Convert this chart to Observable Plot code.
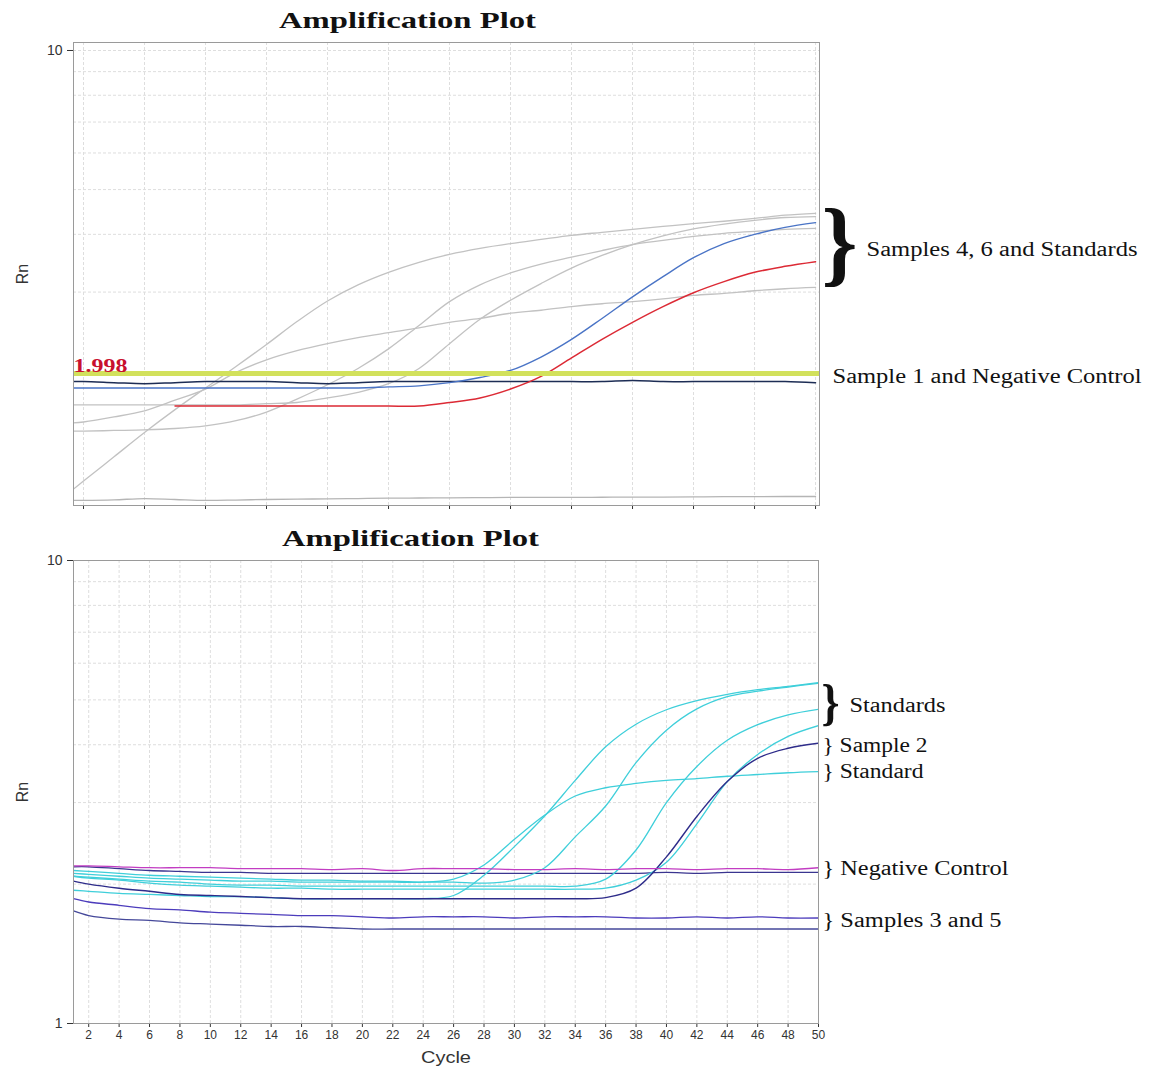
<!DOCTYPE html>
<html><head><meta charset="utf-8">
<script src="https://cdn.jsdelivr.net/npm/d3@7"></script>
<script src="https://cdn.jsdelivr.net/npm/@observablehq/plot@0.6"></script>
<style>
body{margin:0;background:#fff;}
#chart svg{display:block;}
</style></head><body><div id="chart"></div>
<script>
// ---------- data ----------
const cycles = [1,2,4,6,8,10,12,14,16,18,20,22,24,26,28,30,32,34,36,38,40,42,44,46,48,50];
const chartTitle = "Amplification Plot";
const yLabel = "Rn";
const xLabel = "Cycle";
const threshold = 1.998;

// top panel (Rn per cycle)
const topStandardA = [1.10,1.17,1.32,1.49,1.67,1.86,2.07,2.31,2.59,2.87,3.11,3.31,3.48,3.62,3.73,3.82,3.90,3.98,4.04,4.10,4.16,4.22,4.27,4.33,4.40,4.44];
const topStandardB = [1.56,1.57,1.61,1.66,1.75,1.85,2.01,2.14,2.24,2.32,2.39,2.45,2.51,2.58,2.63,2.70,2.74,2.79,2.83,2.86,2.90,2.95,2.98,3.02,3.05,3.07];
const topStandardC = [1.50,1.50,1.505,1.51,1.52,1.54,1.58,1.65,1.76,1.89,2.05,2.26,2.54,2.86,3.11,3.30,3.45,3.57,3.69,3.80,3.88,3.96,4.02,4.06,4.10,4.12];
const topStandardD = [1.71,1.71,1.71,1.71,1.71,1.71,1.71,1.72,1.73,1.77,1.82,1.90,2.05,2.32,2.62,2.88,3.13,3.38,3.60,3.80,3.97,4.11,4.21,4.29,4.35,4.37];
const topBaseline  = [1.062,1.062,1.065,1.072,1.067,1.062,1.064,1.067,1.069,1.070,1.072,1.074,1.075,1.076,1.077,1.078,1.078,1.078,1.079,1.080,1.080,1.081,1.082,1.082,1.083,1.083];
const topSample1   = [1.92,1.92,1.91,1.90,1.91,1.92,1.92,1.92,1.91,1.90,1.91,1.92,1.92,1.92,1.92,1.92,1.92,1.92,1.92,1.93,1.92,1.92,1.92,1.92,1.92,1.91];
const topSample4   = [1.86,1.86,1.86,1.86,1.86,1.86,1.86,1.86,1.86,1.86,1.86,1.87,1.88,1.91,1.96,2.03,2.17,2.37,2.63,2.93,3.24,3.56,3.82,4.00,4.14,4.24];
const topSample6   = [null,null,null,null,1.70,1.70,1.70,1.70,1.70,1.70,1.70,1.70,1.70,1.73,1.77,1.85,1.97,2.16,2.37,2.58,2.79,2.99,3.16,3.31,3.41,3.49];

// bottom panel (Rn per cycle)
const botNegMagenta = [2.19,2.19,2.18,2.17,2.17,2.17,2.16,2.16,2.16,2.15,2.16,2.14,2.16,2.16,2.16,2.15,2.15,2.16,2.15,2.16,2.16,2.15,2.16,2.16,2.15,2.17];
const botNegNavy    = [2.18,2.18,2.16,2.14,2.13,2.12,2.12,2.11,2.11,2.11,2.11,2.11,2.11,2.11,2.11,2.11,2.11,2.11,2.11,2.11,2.12,2.11,2.12,2.12,2.12,2.12];
const botSample2    = [2.03,2.00,1.96,1.93,1.90,1.89,1.88,1.87,1.86,1.86,1.86,1.86,1.86,1.86,1.86,1.86,1.86,1.86,1.87,1.96,2.29,2.80,3.33,3.74,3.93,4.03];
const botSample3    = [1.86,1.83,1.80,1.77,1.76,1.74,1.73,1.72,1.71,1.71,1.70,1.69,1.70,1.70,1.70,1.69,1.70,1.70,1.70,1.69,1.69,1.70,1.69,1.70,1.69,1.69];
const botSample5    = [1.75,1.71,1.68,1.67,1.65,1.64,1.63,1.62,1.62,1.61,1.60,1.60,1.60,1.60,1.60,1.60,1.60,1.60,1.60,1.60,1.60,1.60,1.60,1.60,1.60,1.60];
const botStd1       = [1.94,1.93,1.91,1.90,1.89,1.88,1.88,1.87,1.86,1.86,1.86,1.86,1.86,1.89,2.09,2.41,2.81,3.35,3.96,4.43,4.76,4.98,5.14,5.26,5.35,5.45];
const botStdLow     = [2.11,2.10,2.08,2.06,2.05,2.04,2.03,2.03,2.02,2.02,2.02,2.02,2.02,2.05,2.20,2.50,2.82,3.10,3.23,3.30,3.35,3.38,3.42,3.45,3.48,3.50];
const botStd2       = [2.14,2.13,2.11,2.09,2.08,2.07,2.06,2.05,2.04,2.04,2.03,2.03,2.02,2.02,2.01,2.04,2.17,2.53,2.95,3.66,4.30,4.78,5.08,5.22,5.33,5.43];
const botStd3       = [2.08,2.07,2.05,2.03,2.02,2.00,1.99,1.99,1.98,1.98,1.98,1.98,1.98,1.98,1.98,1.98,1.98,1.98,2.05,2.37,3.00,3.59,4.09,4.42,4.64,4.77];
const botStd4       = [2.08,2.06,2.04,2.01,1.99,1.98,1.97,1.96,1.96,1.95,1.95,1.95,1.95,1.95,1.95,1.95,1.95,1.95,1.96,2.04,2.23,2.70,3.33,3.81,4.17,4.40];

// annotations
const topAnnotLabels = ["Samples 4, 6 and Standards", "Sample 1 and Negative Control"];
const topAnnotRn = [3.71, 1.97];
const botBraceLabel = "Standards";
const botBraceRn = 4.86;
const botAnnotLabels = ["} Sample 2", "} Standard", "} Negative Control", "} Samples 3 and 5"];
const botAnnotRn = [3.98, 3.50, 2.16, 1.67];

// ticks / grid
const topXTicks = [2,6,10,14,18,22,26,30,34,38,42,46,50];
const botXTicks = d3.range(2, 51, 2);
const gridRn = [2,3,4,5,6,7,8,9,10];

// ---------- helpers ----------
const lastCycle = d3.max(cycles);
const rows = vals => cycles.map((c, i) => ({cycle: c, rn: vals[i]}));
const serif = "'Liberation Serif', 'Times New Roman', serif";
const sans = "'Liberation Sans', Arial, sans-serif";

function stretch(svg, widths) {
  d3.select(svg).selectAll("text").each(function() {
    const w = widths[this.textContent];
    if (w) { this.setAttribute("textLength", w); this.setAttribute("lengthAdjust", "spacingAndGlyphs"); }
  });
}

const lineOpts = (stroke, w = 1.3) => ({x: "cycle", y: "rn", stroke, strokeWidth: w, curve: "catmull-rom", clip: true});

// ---------- top panel ----------
const grey = "#c2c2c2";
const topPlot = Plot.plot({
  width: 1154, height: 515,
  marginTop: 42, marginBottom: 10, marginLeft: 73, marginRight: 335,
  style: {fontFamily: sans, fontSize: "13px", color: "#333", background: "#fff", overflow: "visible"},
  x: {domain: [1.344, 50.26], ticks: topXTicks, tickFormat: () => "", tickSize: 4, label: null},
  y: {type: "log", domain: [1.0355, 10.406], ticks: [10], tickFormat: d3.format("d"), tickSize: 6, tickPadding: 5, label: null},
  marks: [
    Plot.ruleY(gridRn, {stroke: "#dedede", strokeDasharray: "3,2"}),
    Plot.ruleX(topXTicks, {stroke: "#dedede", strokeDasharray: "3,2"}),
    Plot.line(rows(topBaseline), lineOpts("#b5b5b5")),
    Plot.line(rows(topStandardB), lineOpts(grey)),
    Plot.line(rows(topStandardC), lineOpts(grey)),
    Plot.line(rows(topStandardD), lineOpts(grey)),
    Plot.line(rows(topStandardA), lineOpts(grey)),
    Plot.line(rows(topSample1), lineOpts("#1d2d55", 1.5)),
    Plot.line(rows(topSample4), lineOpts("#4a74c6", 1.4)),
    Plot.line(rows(topSample6), lineOpts("#dc2a35", 1.5)),
    Plot.ruleY([threshold], {stroke: "#d2e15c", strokeWidth: 5}),
    Plot.frame({stroke: "#9a9a9a"}),
    Plot.text([threshold], {y: d => d, frameAnchor: "left", textAnchor: "start", dy: -8, text: d => d3.format(".3f")(d),
      fill: "#c8102e", fontFamily: serif, fontWeight: "bold", fontSize: 19}),
    Plot.text([chartTitle], {frameAnchor: "top-left", textAnchor: "middle", lineAnchor: "middle", dx: 334, dy: -22,
      fontFamily: serif, fontWeight: "bold", fontSize: 24, fill: "#111"}),
    Plot.text([yLabel], {frameAnchor: "left", rotate: -90, textAnchor: "middle", dx: -51, fontFamily: sans, fontSize: 16, fill: "#333"}),
    Plot.text(["}"], {x: () => lastCycle, y: () => topAnnotRn[0], textAnchor: "start", dx: 6, dy: -6,
      fontFamily: serif, fontWeight: "bold", fontSize: 95, fill: "#111"}),
    Plot.text([topAnnotLabels[0]], {x: () => lastCycle, y: () => topAnnotRn[0], textAnchor: "start", dx: 51,
      fontFamily: serif, fontSize: 20, fill: "#111"}),
    Plot.text([topAnnotLabels[1]], {x: () => lastCycle, y: () => topAnnotRn[1], textAnchor: "start", dx: 17,
      fontFamily: serif, fontSize: 20, fill: "#111"})
  ]
});
stretch(topPlot, {"Amplification Plot": 257, "Samples 4, 6 and Standards": 271, "Sample 1 and Negative Control": 309, "1.998": 54, "}": 36});

// ---------- bottom panel ----------
const cyan = "#3fcfda";
const botPlot = Plot.plot({
  width: 1154, height: 558,
  marginTop: 45, marginBottom: 50, marginLeft: 73, marginRight: 336,
  style: {fontFamily: sans, fontSize: "12px", color: "#333", background: "#fff", overflow: "visible"},
  x: {domain: [1, 50], ticks: botXTicks, tickSize: 4, tickPadding: 3, label: null},
  y: {type: "log", domain: [1, 10], ticks: [1, 10], tickFormat: d3.format("d"), tickSize: 6, tickPadding: 5, label: null},
  marks: [
    Plot.ruleY(gridRn, {stroke: "#dedede", strokeDasharray: "3,2"}),
    Plot.ruleX(botXTicks, {stroke: "#dedede", strokeDasharray: "3,2"}),
    Plot.line(rows(botSample5), lineOpts("#45489a")),
    Plot.line(rows(botSample3), lineOpts("#4c3cbc")),
    Plot.line(rows(botNegNavy), lineOpts("#3a3590")),
    Plot.line(rows(botStd3), lineOpts(cyan)),
    Plot.line(rows(botStd4), lineOpts(cyan)),
    Plot.line(rows(botStd2), lineOpts(cyan)),
    Plot.line(rows(botStdLow), lineOpts(cyan)),
    Plot.line(rows(botStd1), lineOpts(cyan)),
    Plot.line(rows(botSample2), lineOpts("#2e2c8a", 1.4)),
    Plot.line(rows(botNegMagenta), lineOpts("#c23cc2")),
    Plot.frame({stroke: "#9a9a9a"}),
    Plot.text([chartTitle], {frameAnchor: "top-left", textAnchor: "middle", lineAnchor: "middle", dx: 337, dy: -22,
      fontFamily: serif, fontWeight: "bold", fontSize: 24, fill: "#111"}),
    Plot.text([yLabel], {frameAnchor: "left", rotate: -90, textAnchor: "middle", dx: -51, fontFamily: sans, fontSize: 16, fill: "#333"}),
    Plot.text([xLabel], {frameAnchor: "bottom", lineAnchor: "middle", dy: 34, fontFamily: sans, fontSize: 16, fill: "#333"}),
    Plot.text(["}"], {x: () => lastCycle, y: () => botBraceRn, textAnchor: "start", dx: 3, dy: -3,
      fontFamily: serif, fontWeight: "bold", fontSize: 51, fill: "#111"}),
    Plot.text([botBraceLabel], {x: () => lastCycle, y: () => botBraceRn, textAnchor: "start", dx: 31,
      fontFamily: serif, fontSize: 20, fill: "#111"}),
    Plot.text(botAnnotLabels, {x: () => lastCycle, y: (d, i) => botAnnotRn[i], textAnchor: "start", dx: 4,
      fontFamily: serif, fontSize: 20, fill: "#111"})
  ]
});
stretch(botPlot, {"Amplification Plot": 257, "Standards": 96, "}": 18, "} Sample 2": 105, "} Standard": 101,
  "} Negative Control": 186, "} Samples 3 and 5": 179, "Cycle": 50});

document.getElementById("chart").append(topPlot, botPlot);

// enlarge y-axis tick labels (those sitting left of the frame)
for (const svg of [topPlot, botPlot]) {
  const left = svg.getBoundingClientRect().left + 70;
  svg.querySelectorAll("text").forEach(t => {
    if (/^\d+$/.test(t.textContent) && t.getBoundingClientRect().right < left) {
      t.setAttribute("font-size", "14");
      t.style.fontSize = "14px";
    }
  });
}
</script>
</body></html>
